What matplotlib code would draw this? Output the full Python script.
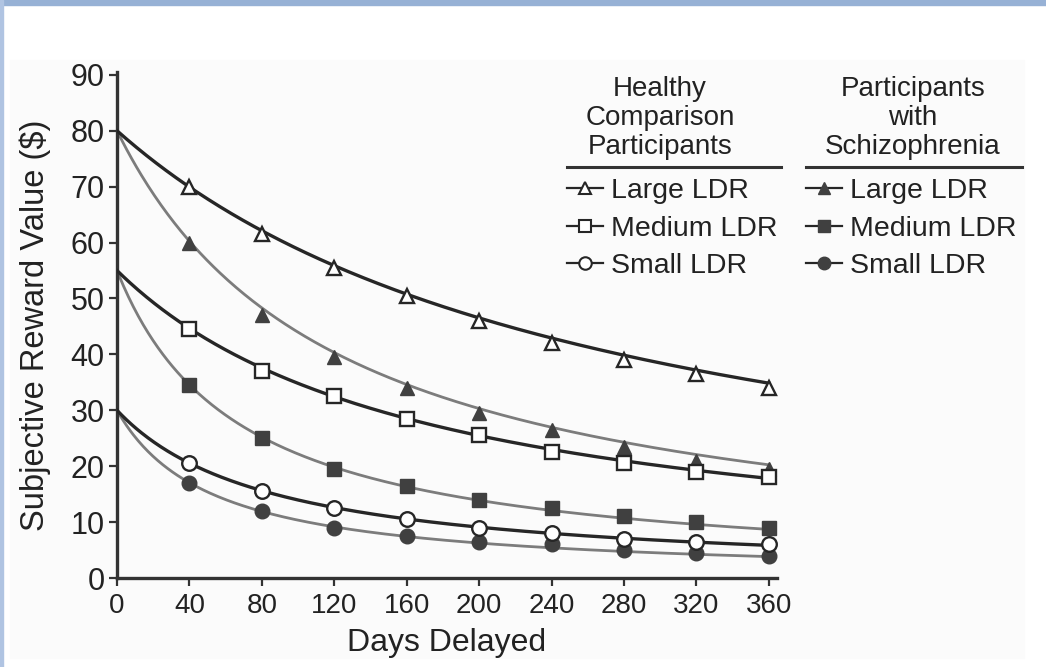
import numpy as np
import matplotlib
matplotlib.use("Agg")
from matplotlib import pyplot as plt
from matplotlib.lines import Line2D
from matplotlib.patches import Rectangle

# delays (days) at which subjective values were measured
days = [40, 80, 120, 160, 200, 240, 280, 320, 360]

# amounts of the later delayed reward (value at delay 0)
large_amt, medium_amt, small_amt = 80, 55, 30

# healthy comparison participants
hc_large = [70, 61.5, 55.5, 50.5, 46, 42, 39, 36.5, 34]
hc_medium = [44.5, 37, 32.5, 28.5, 25.5, 22.5, 20.5, 19, 18]
hc_small = [20.5, 15.5, 12.5, 10.5, 9, 8, 7, 6.5, 6]

# participants with schizophrenia
sz_large = [60, 47, 39.5, 34, 29.5, 26.5, 23.5, 21, 19.5]
sz_medium = [34.5, 25, 19.5, 16.5, 14, 12.5, 11, 10, 9]
sz_small = [17, 12, 9, 7.5, 6.5, 6, 5, 4.5, 4]

# fitted hyperbolic discount rates k for V = A / (1 + kD)
hc_k = [0.0036, 0.0058, 0.0115]
sz_k = [0.0082, 0.0148, 0.0190]

plt.rcParams['font.family'] = ['Liberation Sans', 'DejaVu Sans']

fig = plt.figure(figsize=(10.46, 6.67), dpi=100)
W, H = 1046, 667


def fx(px):
    return px / W


def fy(py):
    return 1 - py / H


# light blue frame and grey image area
fig.patches.append(Rectangle((0, fy(5)), 1, fy(0) - fy(5), transform=fig.transFigure,
                             color='#97b1d5', zorder=-5))
fig.patches.append(Rectangle((0, 0), fx(3), 1, transform=fig.transFigure,
                             color='#b0c4e2', zorder=-5))
fig.patches.append(Rectangle((fx(10), fy(658)), fx(1024) - fx(10), fy(60) - fy(658),
                             transform=fig.transFigure, color='#fbfbfb', zorder=-5))

ax = fig.add_axes([fx(117), fy(578), fx(777) - fx(117), fy(72) - fy(578)])
ax.patch.set_alpha(0)

dense = np.linspace(0, 360, 400)
dark, light, fill = '#262626', '#7c7c7c', '#404040'

amounts = [large_amt, medium_amt, small_amt]
hc_data = [hc_large, hc_medium, hc_small]
sz_data = [sz_large, sz_medium, sz_small]
markers = ['^', 's', 'o']
labels = ['Large LDR', 'Medium LDR', 'Small LDR']

for amt, k, vals, m in zip(amounts, sz_k, sz_data, markers):
    ax.plot(dense, amt / (1 + k * dense), color=light, lw=2.0, zorder=2)
    ax.plot(days, vals, m, ms=10.5, color=fill, mec=fill, zorder=4)

for amt, k, vals, m in zip(amounts, hc_k, hc_data, markers):
    ax.plot(dense, amt / (1 + k * dense), color=dark, lw=2.4, zorder=3)
    ax.plot(days, vals, m, ms=10.5, mfc='white', mec=dark, mew=1.7, zorder=5)

ax.set_xlim(0, 364.5)
ax.set_ylim(0, 90.5)
ax.set_xticks(range(0, 361, 40))
ax.set_yticks(range(0, 91, 10))
for s in ['top', 'right']:
    ax.spines[s].set_visible(False)
for s in ['left', 'bottom']:
    ax.spines[s].set_linewidth(2.4)
    ax.spines[s].set_color('#333333')
ax.tick_params(axis='both', direction='out', length=6, width=1.6, color='#333333',
               labelcolor='#222222')
ax.tick_params(axis='y', labelsize=22, pad=3)
ax.tick_params(axis='x', labelsize=20, pad=5)
ax.set_xlabel('Days Delayed', fontsize=23, color='#222222', labelpad=6)
ax.set_ylabel('Subjective Reward Value ($)', fontsize=23.5, color='#222222')
ax.yaxis.set_label_coords(-0.1, 0.5)

# legend columns
hc_handles = [Line2D([], [], color=dark, lw=1.6, marker=m, ms=9, mfc='white', mec=dark, mew=1.5)
              for m in markers]
sz_handles = [Line2D([], [], color=dark, lw=1.6, marker=m, ms=9, mfc=fill, mec=fill)
              for m in markers]

legkw = dict(loc='upper left', frameon=False, fontsize=20.5, handlelength=1.25,
             handletextpad=0.3, labelspacing=0.41, borderaxespad=0, borderpad=0)
leg1 = fig.legend(hc_handles, labels, bbox_to_anchor=(fx(567), fy(178)), **legkw)
leg2 = fig.legend(sz_handles, labels, bbox_to_anchor=(fx(806), fy(178)), **legkw)
for leg in (leg1, leg2):
    for t in leg.get_texts():
        t.set_color('#222222')

fig.text(fx(660), fy(118), 'Healthy\nComparison\nParticipants', ha='center', va='center',
         fontsize=20, linespacing=1.17, color='#222222')
fig.text(fx(913), fy(118), 'Participants\nwith\nSchizophrenia', ha='center', va='center',
         fontsize=20, linespacing=1.17, color='#222222')
fig.add_artist(Line2D([fx(567), fx(781)], [fy(167), fy(167)], color='#333333', lw=2.2))
fig.add_artist(Line2D([fx(806), fx(1022)], [fy(167), fy(167)], color='#333333', lw=2.2))

fig.savefig('out.png', dpi=100)
